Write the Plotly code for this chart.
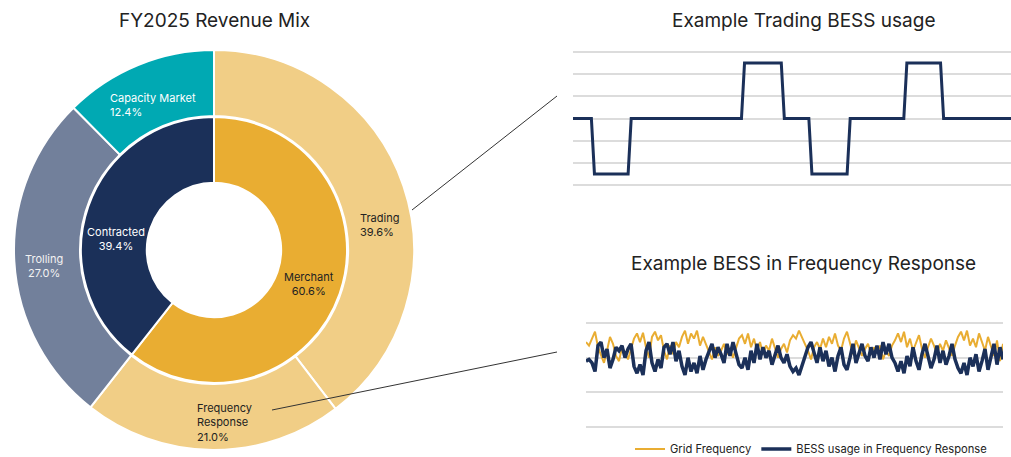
import plotly.graph_objects as go

W, H = 1011, 457

# --- Revenue mix (FY2025) ---
outer_labels = ["Trading", "Frequency<br>Response", "Trolling", "Capacity Market"]
outer_values = [39.6, 21.0, 27.0, 12.4]
outer_colors = ["#F1CE86", "#F1CE86", "#72809B", "#00A9B3"]

inner_labels = ["Merchant", "Contracted"]
inner_values = [60.6, 39.4]
inner_colors = ["#E9AD32", "#1B3059"]

# --- Trading BESS profile (breakpoints of a 144-step day) ---
trade_t = [0, 6, 7, 18, 19, 55, 56, 68, 69, 77, 78, 89.5, 90.5, 108, 109, 120, 121, 143]
trade_v = [0, 0, -2.5, -2.5, 0, 0, 2.5, 2.5, 0, 0, -2.5, -2.5, 0, 0, 2.5, 2.5, 0, 0]

# --- Frequency response example ---
grid_freq = [
    2.45, 2.35, 2.55, 2.75, 2.3, 2.1, 1.85, 2.2, 2.6, 2.4,
    2.05, 1.9, 2.3, 2.15, 1.95, 2.25, 2.55, 2.7, 2.45, 2.72,
    2.3, 2.0, 2.6, 2.75, 2.5, 2.65, 2.2, 1.95, 2.35, 2.1,
    2.45, 2.3, 2.6, 2.78, 2.4, 2.7, 2.55, 2.78, 2.35, 2.6,
    2.4, 2.15, 1.95, 2.3, 2.05, 2.2, 2.4, 2.1, 2.25, 2.0,
    2.25, 2.55, 2.65, 2.4, 2.7, 2.3, 2.55, 2.2, 2.45, 2.1,
    2.35, 2.2, 2.55, 2.3, 2.0, 2.25, 2.4, 2.15, 2.5, 2.65,
    2.55, 2.78, 2.6, 2.4, 2.2, 1.95, 2.3, 2.45, 2.25, 2.55,
    2.3, 2.6, 2.4, 2.7, 2.35, 2.2, 2.55, 2.75, 2.4, 2.1,
    2.5, 2.3, 2.05, 2.25, 2.4, 2.1, 2.3, 2.15, 2.35, 1.95,
    2.2, 2.05, 2.35, 2.5, 2.7, 2.45, 2.75, 2.3, 2.55, 2.2,
    2.45, 2.65, 2.25, 2.0, 2.3, 2.55, 2.35, 2.1, 2.4, 2.2,
    2.5, 2.3, 2.05, 2.35, 2.6, 2.75, 2.5, 2.78, 2.35, 2.55,
    2.3, 2.7, 2.45, 2.2, 2.6, 2.35, 2.05, 2.5, 1.9, 2.4,
]
bess_usage = [
    1.9, 1.95, 1.85, 1.6, 2.35, 2.45, 2.0, 2.25, 1.7, 1.95,
    2.3, 2.2, 2.35, 2.0, 2.25, 2.4, 1.75, 1.55, 1.8, 1.5,
    2.2, 2.45, 1.85, 1.6, 1.95, 1.7, 2.3, 2.4, 2.1, 2.45,
    1.9, 2.2, 1.75, 1.5, 2.0, 1.6, 1.85, 1.55, 2.05, 1.65,
    1.95, 2.15, 2.4, 2.0, 2.3, 2.1, 1.85, 2.4, 2.05, 2.45,
    2.1, 1.8, 1.7, 2.0, 1.65, 2.2, 1.85, 2.4, 1.95, 2.3,
    2.0, 2.2, 1.8, 2.05, 2.35, 2.0, 1.85, 2.1, 1.75, 1.6,
    1.7, 1.5, 1.75, 2.0, 2.3, 2.45, 2.15, 1.85, 2.3, 1.9,
    2.2, 1.75, 2.0, 1.6, 2.05, 2.3, 1.8, 1.65, 2.0, 2.4,
    1.85, 2.1, 2.4, 2.05, 1.9, 2.3, 2.0, 2.35, 1.95, 2.45,
    2.1, 2.4, 2.0, 1.85, 1.6, 1.9, 1.55, 2.05, 1.75, 2.3,
    1.9, 1.65, 2.1, 2.4, 2.0, 1.7, 1.95, 2.35, 1.85, 2.2,
    1.8, 2.05, 2.4, 1.95, 1.7, 1.55, 1.85, 1.5, 2.0, 1.75,
    2.1, 1.6, 1.9, 2.25, 1.65, 2.0, 2.4, 1.8, 2.3, 1.95,
]

NAVY = "#1B3059"
GOLD = "#E9AD32"
GRID = "#DCDCDC"
TEXT = "#222222"
FONT = "Inter"


def px(x):
    return x / W


def py(y):
    return 1 - y / H


fig = go.Figure()

# Outer ring
fig.add_trace(go.Pie(
    labels=outer_labels, values=outer_values, sort=False, direction="clockwise",
    rotation=0, hole=0.67, textinfo="none", hoverinfo="label+percent",
    marker=dict(colors=outer_colors, line=dict(color="white", width=2)),
    domain=dict(x=[px(14), px(414)], y=[py(450), py(50)]),
    showlegend=False,
))
# Inner ring
fig.add_trace(go.Pie(
    labels=inner_labels, values=inner_values, sort=False, direction="clockwise",
    rotation=0, hole=0.505, textinfo="none", hoverinfo="label+percent",
    marker=dict(colors=inner_colors, line=dict(color="white", width=2)),
    domain=dict(x=[px(81), px(347)], y=[py(383), py(117)]),
    showlegend=False,
))

# Trading profile
fig.add_trace(go.Scatter(
    x=trade_t, y=trade_v, mode="lines", line=dict(color=NAVY, width=3),
    xaxis="x", yaxis="y", showlegend=False,
))

# Frequency response lines
idx = list(range(len(grid_freq)))
fig.add_trace(go.Scatter(
    x=idx, y=grid_freq, mode="lines", name="Grid Frequency",
    line=dict(color=GOLD, width=2), xaxis="x2", yaxis="y2",
))
fig.add_trace(go.Scatter(
    x=idx, y=bess_usage, mode="lines", name="BESS usage in Frequency Response",
    line=dict(color=NAVY, width=3.5), xaxis="x2", yaxis="y2",
))

# Slice labels
label_specs = [
    # text, x, y, align, xanchor, color
    (f"Capacity Market<br>{outer_values[3]:.1f}%", 108, 105, "left", "left", "white"),
    (f"Trading<br>{outer_values[0]:.1f}%", 358, 225, "left", "left", TEXT),
    (f"Trolling<br>{outer_values[2]:.1f}%", 44, 266, "center", "center", "#F2F2F2"),
    (f"Frequency<br>Response<br>{outer_values[1]:.1f}%", 195, 422, "left", "left", TEXT),
    (f"Contracted<br>{inner_values[1]:.1f}%", 116, 239, "center", "center", "white"),
    (f"Merchant<br>{inner_values[0]:.1f}%", 309, 284, "center", "center", TEXT),
]
annotations = []
for text, x, y, align, xa, color in label_specs:
    annotations.append(dict(
        text=text, x=px(x), y=py(y), xref="paper", yref="paper",
        xanchor=xa, yanchor="middle", align=align, showarrow=False,
        font=dict(family=FONT, size=11, color=color),
    ))

titles = [
    ("FY2025 Revenue Mix", 214, 20),
    ("Example Trading BESS usage", 803, 21),
    ("Example BESS in Frequency Response", 803, 263),
]
for text, x, y in titles:
    annotations.append(dict(
        text=text, x=px(x), y=py(y), xref="paper", yref="paper",
        xanchor="center", yanchor="middle", showarrow=False,
        font=dict(family=FONT, size=19, color=TEXT),
    ))

# Connector lines from the ring to the example panels
shapes = [
    dict(type="line", xref="paper", yref="paper",
         x0=px(412), y0=py(210), x1=px(557), y1=py(96),
         line=dict(color="#333333", width=1)),
    dict(type="line", xref="paper", yref="paper",
         x0=px(272), y0=py(410), x1=px(557), y1=py(352),
         line=dict(color="#333333", width=1)),
]

axis_common = dict(showticklabels=False, zeroline=False, showline=False, ticks="")

fig.update_layout(
    width=W, height=H,
    margin=dict(l=0, r=0, t=0, b=0, autoexpand=False),
    paper_bgcolor="white", plot_bgcolor="white",
    font=dict(family=FONT, color=TEXT),
    annotations=annotations, shapes=shapes,
    xaxis=dict(domain=[px(573), 1.0], range=[0, 143], showgrid=False, **axis_common),
    yaxis=dict(domain=[py(186.1), py(50.9)], range=[-3.05, 3.05], dtick=1, tick0=0,
               showgrid=True, gridcolor=GRID, gridwidth=1.5, **axis_common),
    xaxis2=dict(domain=[px(586), px(1003)], range=[0, len(grid_freq) - 1], showgrid=False,
                anchor="y2", **axis_common),
    yaxis2=dict(domain=[py(428.7), py(321.3)], range=[-0.05, 3.05], dtick=1, tick0=0,
                showgrid=True, gridcolor=GRID, gridwidth=1.5, anchor="x2", **axis_common),
    legend=dict(orientation="h", x=px(630), xanchor="left", y=py(449), yanchor="middle",
                bgcolor="rgba(0,0,0,0)", font=dict(family=FONT, size=11.2, color=TEXT),
                itemwidth=30),
)

fig.write_html("out.html")
